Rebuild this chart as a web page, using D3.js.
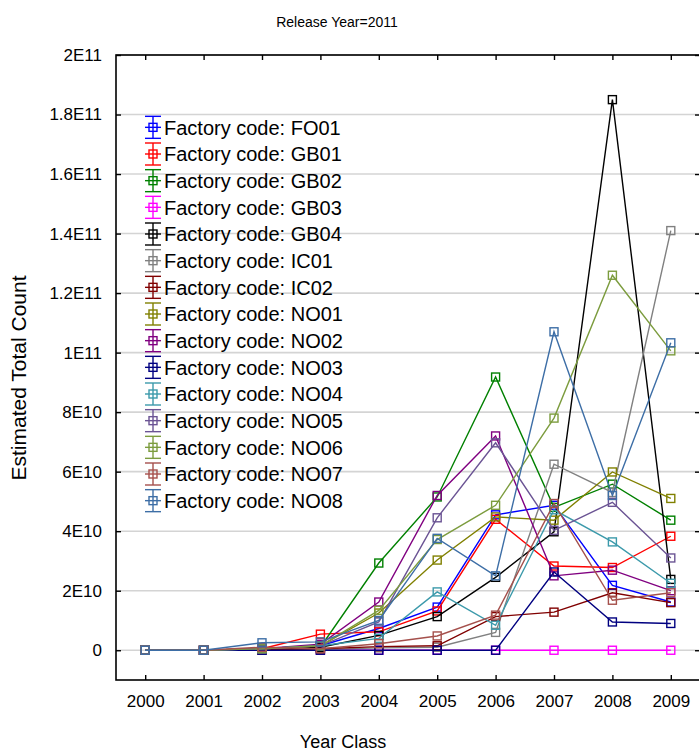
<!DOCTYPE html>
<html>
<head>
<meta charset="utf-8">
<script src="https://cdn.jsdelivr.net/npm/d3@7"></script>
<style>
  body { margin: 0; background: #fff; }
  svg { font-family: "Liberation Sans", Arial, sans-serif; }
</style>
</head>
<body>
<div id="container"></div>
<script>
// data declaration
const years = [2000, 2001, 2002, 2003, 2004, 2005, 2006, 2007, 2008, 2009];
const codes = ["FO01","GB01","GB02","GB03","GB04","IC01","IC02","NO01",
               "NO02","NO03","NO04","NO05","NO06","NO07","NO08"];
const colors = ["#0000ff","#ff0000","#008000","#ff00ff","#000000","#808080","#800000","#808000",
                "#800080","#000080","#3c9aab","#6b5494","#7c9c3e","#a5504c","#3d6ea6"];
// estimated total count per year class, one array per factory
const FO01 = [0, 0, 0.05e10, 0.15e10, 0.73e10, 1.45e10, 4.55e10, 4.87e10, 2.18e10, 1.62e10];
const GB01 = [0, 0, 0.05e10, 0.54e10, 0.62e10, 1.32e10, 4.4e10, 2.83e10, 2.78e10, 3.83e10];
const GB02 = [0, 0, 0.02e10, 0.1e10, 2.93e10, 5.15e10, 9.18e10, 4.8e10, 5.58e10, 4.37e10];
const GB03 = [0, 0, 0, 0, 0, 0, 0, 0, 0, 0];
const GB04 = [0, 0, 0.02e10, 0.1e10, 0.5e10, 1.13e10, 2.45e10, 3.98e10, 18.5e10, 2.38e10];
const IC01 = [0, 0, 0, 0.02e10, 0.08e10, 0.1e10, 0.6e10, 6.25e10, 5.3e10, 14.1e10];
const IC02 = [0, 0, 0.02e10, 0.05e10, 0.12e10, 0.15e10, 1.13e10, 1.28e10, 1.93e10, 1.6e10];
const NO01 = [0, 0, 0.05e10, 0.15e10, 1.25e10, 3.03e10, 4.48e10, 4.37e10, 5.99e10, 5.1e10];
const NO02 = [0, 0, 0.05e10, 0.2e10, 1.62e10, 5.2e10, 7.2e10, 2.5e10, 2.69e10, 2.0e10];
const NO03 = [0, 0, 0, 0, 0, 0, 0, 2.63e10, 0.95e10, 0.9e10];
const NO04 = [0, 0, 0.05e10, 0.15e10, 0.4e10, 1.96e10, 0.84e10, 4.72e10, 3.64e10, 2.25e10];
const NO05 = [0, 0, 0.05e10, 0.15e10, 0.95e10, 4.45e10, 6.97e10, 4.03e10, 4.97e10, 3.1e10];
const NO06 = [0, 0, 0.05e10, 0.15e10, 1.34e10, 3.72e10, 4.87e10, 7.8e10, 12.6e10, 10.06e10];
const NO07 = [0, 0, 0.1e10, 0.05e10, 0.22e10, 0.48e10, 1.18e10, 4.93e10, 1.68e10, 1.93e10];
const NO08 = [0, 0, 0.25e10, 0.28e10, 1.0e10, 3.76e10, 2.5e10, 10.7e10, 5.2e10, 10.33e10];
const yTicks = [0, 2e10, 4e10, 6e10, 8e10, 1e11, 1.2e11, 1.4e11, 1.6e11, 1.8e11, 2e11];
const yTickLabels = ["0","2E10","4E10","6E10","8E10","1E11","1.2E11","1.4E11","1.6E11","1.8E11","2E11"];

const seriesValues = [FO01, GB01, GB02, GB03, GB04, IC01, IC02, NO01,
                      NO02, NO03, NO04, NO05, NO06, NO07, NO08];
const series = codes.map((c, i) => ({
  code: c,
  color: colors[i],
  points: years.map((y, j) => ({ year: y, value: seriesValues[i][j] }))
}));

const w = 699;
const h = 753;
const plotLeft = 116, plotRight = 700, plotTop = 55, plotBottom = 680;

const svg = d3.select("#container").append("svg").attr("width", w).attr("height", h);

// scales
const xScale = d3.scaleLinear().domain([1999.5, 2009.5]).range([plotLeft, plotRight]);
const yScale = d3.scaleLinear().domain([-1e10, 2e11]).range([plotBottom, plotTop]);

// grid lines
svg.append("g")
  .selectAll("line")
  .data(yTicks)
  .enter()
  .append("line")
  .attr("x1", plotLeft)
  .attr("x2", plotRight)
  .attr("y1", d => yScale(d))
  .attr("y2", d => yScale(d))
  .style("stroke", "#d4d4d4")
  .style("stroke-width", 1.6);

// axes (ticks point inward, labels outside)
const yAxis = d3.axisLeft(yScale).tickValues(yTicks).tickSize(-5).tickPadding(14)
  .tickFormat((d, i) => yTickLabels[i]);
const xAxis = d3.axisBottom(xScale).tickValues(years).tickSize(-5).tickPadding(15)
  .tickFormat(d3.format("d"));

const yG = svg.append("g").attr("transform", "translate(" + plotLeft + ",0)").call(yAxis);
const xG = svg.append("g").attr("transform", "translate(0," + plotBottom + ")").call(xAxis);
svg.append("g").attr("transform", "translate(" + plotRight + ",0)")
  .call(d3.axisRight(yScale).tickValues(yTicks).tickSize(-5).tickFormat(""));
svg.append("g").attr("transform", "translate(0," + plotTop + ")")
  .call(d3.axisTop(xScale).tickValues(years).tickSize(-5).tickFormat(""));

svg.selectAll(".domain").remove();
svg.selectAll(".tick line").style("stroke", "#000").style("stroke-width", 1.4);
yG.selectAll("text").style("font-size", "17px").style("fill", "#000")
  .style("font-family", "Liberation Sans, Arial, sans-serif");
xG.selectAll("text").style("font-size", "17px").style("fill", "#000")
  .style("font-family", "Liberation Sans, Arial, sans-serif");

// frame
svg.append("rect")
  .attr("x", plotLeft).attr("y", plotTop)
  .attr("width", plotRight - plotLeft).attr("height", plotBottom - plotTop)
  .style("fill", "none")
  .style("stroke", "#000")
  .style("stroke-width", 1.6);

// lines and markers
const line = d3.line().x(d => xScale(d.year)).y(d => yScale(d.value));
const sq = 8;

const seriesG = svg.selectAll(".series")
  .data(series)
  .enter()
  .append("g")
  .attr("class", "series");

seriesG.append("path")
  .attr("d", d => line(d.points))
  .style("fill", "none")
  .style("stroke", d => d.color)
  .style("stroke-width", 1.4);

seriesG.each(function(s) {
  d3.select(this).selectAll("rect")
    .data(s.points)
    .enter()
    .append("rect")
    .attr("x", d => xScale(d.year) - sq / 2)
    .attr("y", d => yScale(d.value) - sq / 2)
    .attr("width", sq)
    .attr("height", sq)
    .style("fill", "none")
    .style("stroke", s.color)
    .style("stroke-width", 1.4);
});

// legend
const legendScale = d3.scaleBand().domain(codes).range([114, 514]);
const legend = svg.append("g").attr("id", "legend");
const item = legend.selectAll("g")
  .data(series)
  .enter()
  .append("g")
  .attr("transform", d => "translate(153," + (legendScale(d.code) + legendScale.bandwidth() / 2) + ")");

item.append("line").attr("x1", 0).attr("x2", 0).attr("y1", -11).attr("y2", 11);
item.append("line").attr("x1", -8).attr("x2", 8).attr("y1", -11).attr("y2", -11);
item.append("line").attr("x1", -8).attr("x2", 8).attr("y1", 11).attr("y2", 11);
item.append("line").attr("x1", -8).attr("x2", 8).attr("y1", 0).attr("y2", 0);
item.selectAll("line").style("stroke", d => d.color).style("stroke-width", 1.4);
item.append("rect")
  .attr("x", -sq / 2).attr("y", -sq / 2)
  .attr("width", sq).attr("height", sq)
  .style("fill", "none")
  .style("stroke", d => d.color)
  .style("stroke-width", 1.4);
item.append("text")
  .attr("x", 11)
  .attr("dy", "0.36em")
  .style("font-size", "20px")
  .text(d => "Factory code: " + d.code);

// titles
svg.append("text")
  .attr("x", 337).attr("y", 27)
  .style("text-anchor", "middle")
  .style("font-size", "14px")
  .text("Release Year=2011");

svg.append("text")
  .attr("x", 343).attr("y", 748)
  .style("text-anchor", "middle")
  .style("font-size", "18px")
  .text("Year Class");

svg.append("text")
  .attr("transform", "translate(26,378) rotate(-90)")
  .style("text-anchor", "middle")
  .style("font-size", "21px")
  .text("Estimated Total Count");
</script>
</body>
</html>
